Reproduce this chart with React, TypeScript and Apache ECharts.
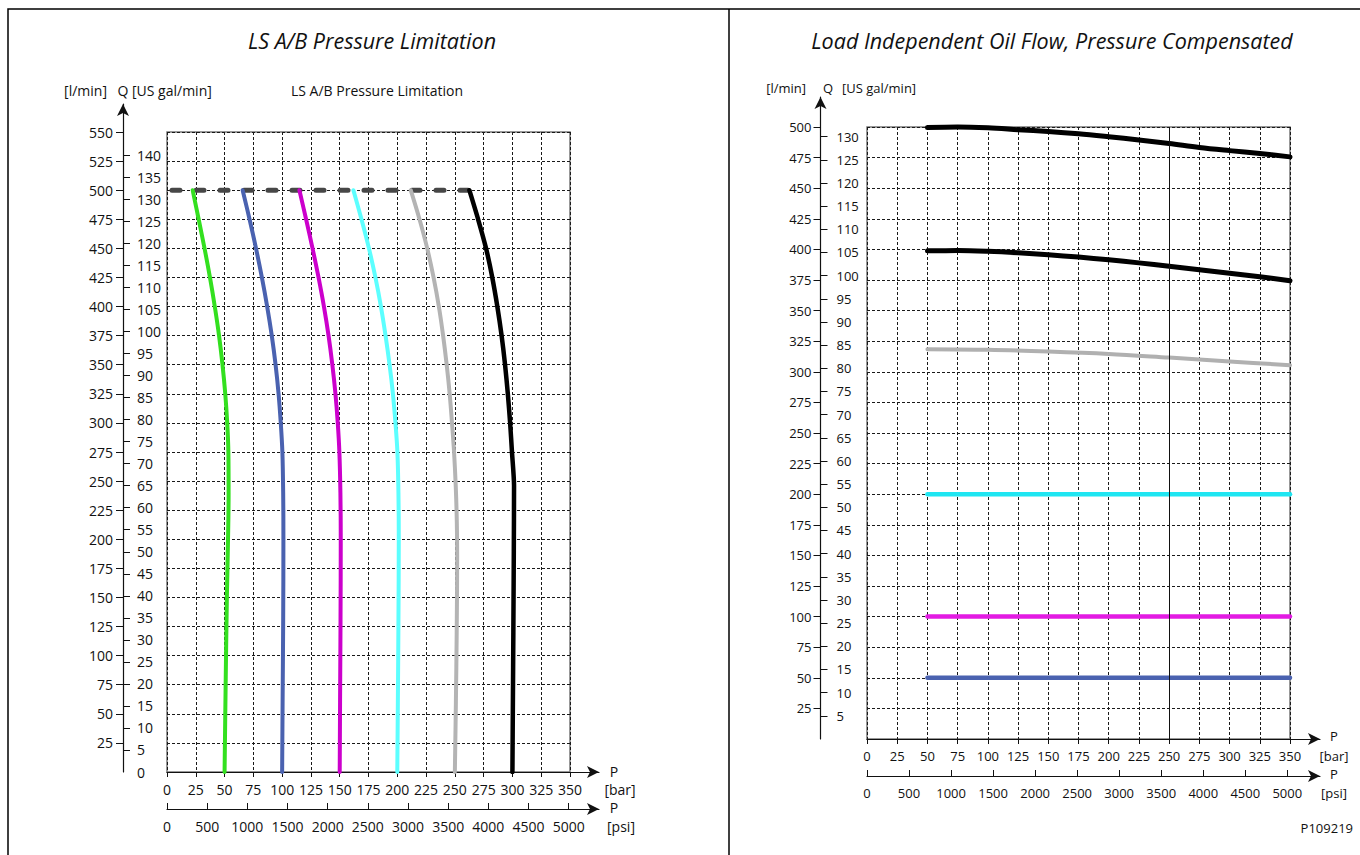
import React, { useEffect, useRef } from "react";
import * as echarts from "echarts";

// ---------- tick labels ----------
const barTicks = [0, 25, 50, 75, 100, 125, 150, 175, 200, 225, 250, 275, 300, 325, 350];
const psiTicks = [0, 500, 1000, 1500, 2000, 2500, 3000, 3500, 4000, 4500, 5000];
const leftFlowTicks = [25, 50, 75, 100, 125, 150, 175, 200, 225, 250, 275, 300, 325, 350, 375, 400, 425, 450, 475, 500, 525, 550];
const leftGalTicks = [0, 5, 10, 15, 20, 25, 30, 35, 40, 45, 50, 55, 60, 65, 70, 75, 80, 85, 90, 95, 100, 105, 110, 115, 120, 125, 130, 135, 140];
const rightFlowTicks = [25, 50, 75, 100, 125, 150, 175, 200, 225, 250, 275, 300, 325, 350, 375, 400, 425, 450, 475, 500];
const rightGalTicks = [5, 10, 15, 20, 25, 30, 35, 40, 45, 50, 55, 60, 65, 70, 75, 80, 85, 90, 95, 100, 105, 110, 115, 120, 125, 130];

// ---------- left chart: LS A/B pressure limitation  [bar, l/min] ----------
const leftLimitLine = [[0, 500], [262.6, 500]];
const leftGreen = [[22.3, 500], [27.5, 475], [32.6, 450], [37.3, 425], [41.5, 400], [45.2, 375], [48.2, 350], [50.6, 325], [52.3, 300], [53.3, 275], [53.5, 240], [53, 200], [52, 150], [51, 80], [50, 0]];
const leftBlue = [[65.7, 500], [71.7, 475], [77.3, 450], [82.4, 425], [87, 400], [91, 375], [94.3, 350], [96.9, 325], [98.8, 300], [100.2, 275], [100.9, 240], [101.1, 200], [100.9, 130], [100.4, 60], [100, 0]];
const leftMagenta = [[115, 500], [120.8, 475], [126.4, 450], [131.6, 425], [136.3, 400], [140.3, 375], [143.6, 350], [146.3, 325], [148.3, 300], [149.7, 275], [150.6, 240], [150.9, 200], [150.7, 130], [150.3, 60], [150, 0]];
const leftCyan = [[161.9, 500], [168.9, 475], [175.4, 450], [181, 425], [185.8, 400], [189.8, 375], [193.3, 350], [196.2, 325], [198.4, 300], [200.1, 275], [201, 240], [201.3, 200], [201, 130], [200.5, 60], [200, 0]];
const leftGray = [[211.7, 500], [219.3, 475], [226, 450], [231.5, 425], [236.1, 400], [239.8, 375], [242.9, 350], [245.5, 325], [247.5, 300], [249.3, 275], [250.8, 245], [251.7, 215], [252, 185], [251.6, 120], [250.9, 60], [250, 0]];
const leftBlack = [[262.6, 500], [270.2, 475], [277.1, 450], [282.5, 425], [286.9, 400], [290.6, 375], [293.6, 350], [296, 325], [298, 300], [299.6, 275], [301.4, 246], [301.2, 190], [300.8, 120], [300.4, 60], [300, 0]];

// ---------- right chart: load independent oil flow  [bar, l/min] ----------
const rightBlackHigh = [[50, 499.5], [75, 500], [100, 499.3], [125, 497.8], [150, 496.3], [175, 494.4], [200, 492], [225, 489.4], [250, 486.5], [275, 483.3], [300, 480.7], [325, 478.3], [350, 475.6]];
const rightBlackLow = [[50, 398.8], [75, 399], [100, 398.4], [125, 397.2], [150, 395.6], [175, 393.7], [200, 391.5], [225, 389], [250, 386.2], [275, 383.3], [300, 380.5], [325, 377.6], [350, 374.4]];
const rightGray = [[50, 318.5], [100, 318], [150, 316.6], [200, 314.6], [250, 311.6], [300, 308.5], [350, 305.4]];
const rightCyan = [[50, 200], [350, 200]];
const rightMagenta = [[50, 100], [350, 100]];
const rightBlue = [[50, 50], [350, 50]];

const LPM_PER_GAL = 3.78541;

function buildOption() {
  const F = '"Open Sans", "Noto Sans", sans-serif';
  const FN = '"Open Sans", "Noto Sans", sans-serif';
  const ink = "#111";
  const gridLine = { show: true, lineStyle: { color: "#1a1a1a", width: 1, type: [3, 2] as any } };
  const plain = (v: number) => String(v);

  // left geometry
  const L = { left: 167, top: 132, w: 403, h: 640, axisX: 123, axisTop: 104, arrowEnd: 599 };
  const lPxPerQ = L.h / 550;
  const lPxPerBar = L.w / 350;
  const lBottom = L.top + L.h;
  const lQMax = (lBottom - L.axisTop) / lPxPerQ;
  const lXw = L.arrowEnd - L.left;
  const lBarMax = lXw / lPxPerBar;
  const lPsiMax = (lXw * 5000) / 401.7;

  // right geometry
  const R = { left: 867, top: 127, w: 423, h: 612, axisX: 820.5, axisTop: 97, arrowEnd: 1320 };
  const rPxPerQ = R.h / 500;
  const rPxPerBar = R.w / 350;
  const rBottom = R.top + R.h;
  const rQMax = (rBottom - R.axisTop) / rPxPerQ;
  const rXw = R.arrowEnd - R.left;
  const rBarMax = rXw / rPxPerBar;
  const rPsiMax = (rXw * 5000) / 420.3;

  const arrowLine = { show: true, symbol: ["none", "arrow"], symbolSize: [9, 12], lineStyle: { color: ink, width: 1.2 } };
  const hidden = { show: false, min: 0, max: 1, type: "value" };

  const grid = [
    { left: L.left, top: L.top, width: L.w, height: L.h, show: true, borderColor: "#777", borderWidth: 1.5 },
    { left: L.axisX, top: L.axisTop, width: 10, height: lBottom - L.axisTop },
    { left: L.left, top: L.top, width: lXw, height: L.h },
    { left: R.left, top: R.top, width: R.w, height: R.h, show: true, borderColor: "#777", borderWidth: 1.5 },
    { left: R.axisX, top: R.axisTop, width: 10, height: rBottom - R.axisTop },
    { left: R.left, top: R.top, width: rXw, height: R.h },
  ];

  const barAxis = (gi: number, max: number, font: string, size: number) => ({
    type: "value", gridIndex: gi, min: 0, max, position: "bottom",
    axisLine: arrowLine,
    axisTick: { show: true, customValues: barTicks, length: 5, lineStyle: { color: ink } },
    axisLabel: { show: true, customValues: barTicks, formatter: plain, margin: 10, color: ink, fontFamily: font, fontSize: size },
    splitLine: { show: false },
  });
  const psiAxis = (gi: number, max: number, font: string, size: number, margin: number) => ({
    type: "value", gridIndex: gi, min: 0, max, position: "bottom", offset: 37,
    axisLine: arrowLine,
    axisTick: { show: true, inside: true, customValues: psiTicks, length: 6, lineStyle: { color: ink } },
    axisLabel: { show: true, customValues: psiTicks, formatter: plain, margin, color: ink, fontFamily: font, fontSize: size },
    splitLine: { show: false },
  });
  const flowAxis = (gi: number, max: number, ticks: number[], font: string, size: number, margin: number) => ({
    type: "value", gridIndex: gi, min: 0, max, position: "left",
    axisLine: arrowLine,
    axisTick: { show: true, customValues: ticks, length: 7, lineStyle: { color: ink } },
    axisLabel: { show: true, customValues: ticks, formatter: plain, margin, color: ink, fontFamily: font, fontSize: size },
    splitLine: { show: false },
  });
  const galAxis = (gi: number, max: number, tickVals: number[], labelVals: number[], font: string, size: number, margin: number) => ({
    type: "value", gridIndex: gi, min: 0, max, position: "left",
    axisLine: { show: false },
    axisTick: { show: true, inside: true, customValues: tickVals, length: 7, lineStyle: { color: ink } },
    axisLabel: { show: true, inside: true, customValues: labelVals, formatter: plain, margin, color: ink, fontFamily: font, fontSize: size },
    splitLine: { show: false },
  });

  const xAxis = [
    { type: "value", gridIndex: 0, min: 0, max: 350, interval: 25, axisLine: { show: false }, axisTick: { show: false }, axisLabel: { show: false }, splitLine: gridLine },
    { ...hidden, gridIndex: 1 },
    barAxis(2, lBarMax, F, 14),
    psiAxis(2, lPsiMax, F, 14, 10),
    { type: "value", gridIndex: 3, min: 0, max: 350, interval: 25, axisLine: { show: false }, axisTick: { show: false }, axisLabel: { show: false }, splitLine: gridLine },
    { ...hidden, gridIndex: 4 },
    barAxis(5, rBarMax, FN, 13),
    psiAxis(5, rPsiMax, FN, 13, 10),
  ];
  const yAxis = [
    { type: "value", gridIndex: 0, min: 0, max: 550, interval: 25, axisLine: { show: false }, axisTick: { show: false }, axisLabel: { show: false }, splitLine: gridLine },
    flowAxis(1, lQMax, leftFlowTicks, F, 14, 10),
    galAxis(1, lQMax / LPM_PER_GAL, leftGalTicks.filter((v) => v > 0), leftGalTicks, F, 14, 14),
    { ...hidden, gridIndex: 2 },
    { type: "value", gridIndex: 3, min: 0, max: 500, interval: 25, axisLine: { show: false }, axisTick: { show: false }, axisLabel: { show: false }, splitLine: gridLine },
    flowAxis(4, rQMax, rightFlowTicks, FN, 13, 9),
    galAxis(4, rQMax / LPM_PER_GAL, rightGalTicks, rightGalTicks, FN, 13, 16),
    { ...hidden, gridIndex: 5 },
  ];

  const line = (data: number[][], color: string, width: number, xi: number, yi: number, extra: any = {}) => ({
    type: "line", data, xAxisIndex: xi, yAxisIndex: yi, showSymbol: false, symbol: "none",
    smooth: 0.35, clip: false, silent: true, z: 3,
    lineStyle: { color, width, cap: "round", join: "round" },
    ...extra,
  });

  const series = [
    line(leftLimitLine, "#474747", 5, 0, 0, { smooth: false, z: 2, lineStyle: { color: "#474747", width: 5, cap: "round", type: [8, 16], dashOffset: -5 } }),
    line(leftGreen, "#33e01f", 4, 0, 0),
    line(leftBlue, "#4a62b0", 4, 0, 0),
    line(leftMagenta, "#cc00cc", 4, 0, 0),
    line(leftCyan, "#5cffff", 4, 0, 0),
    line(leftGray, "#b4b4b4", 4, 0, 0),
    line(leftBlack, "#000000", 4.5, 0, 0, { smooth: 0.25 }),
    line(rightBlackHigh, "#000000", 5, 4, 4),
    line(rightBlackLow, "#000000", 5, 4, 4),
    line(rightGray, "#b0b0b0", 4, 4, 4),
    line(rightCyan, "#1ee6f2", 4.5, 4, 4, {
      smooth: false,
      markLine: { silent: true, symbol: ["none", "none"], label: { show: false }, lineStyle: { color: "#111", width: 1, type: "solid" }, data: [{ xAxis: 250 }] },
    }),
    line(rightMagenta, "#e31be3", 4.5, 4, 4, { smooth: false }),
    line(rightBlue, "#4a62b0", 4.5, 4, 4, { smooth: false }),
  ];

  const txt = (text: string, x: number, y: number, font: string, align = "center") => ({
    type: "text", x, y, silent: true,
    style: { text, font, fill: ink, align, verticalAlign: "middle", textAlign: align, textVerticalAlign: "middle" },
  });

  const graphic = [
    { type: "rect", silent: true, shape: { x: 8, y: 9, width: 1400, height: 900 }, style: { fill: "none", stroke: "#000", lineWidth: 1.5 } },
    { type: "line", silent: true, shape: { x1: 729, y1: 9, x2: 729, y2: 860 }, style: { stroke: "#000", lineWidth: 1.5 } },
    txt("LS A/B Pressure Limitation", 372, 40, `italic 21.5px ${F}`),
    txt("Load Independent Oil Flow, Pressure Compensated", 1052, 40, `italic 21.5px ${F}`),
    txt("[l/min]", 107, 90, `14px ${F}`, "right"),
    txt("Q", 123, 90, `14px ${F}`),
    txt("[US gal/min]", 132, 90, `14px ${F}`, "left"),
    txt("LS A/B Pressure Limitation", 377, 90, `14px ${F}`),
    txt("[l/min]", 806, 88, `13px ${FN}`, "right"),
    txt("Q", 828, 88, `13px ${FN}`),
    txt("[US gal/min]", 842, 88, `13px ${FN}`, "left"),
    txt("P", 614, 771, `14px ${F}`),
    txt("[bar]", 620, 789, `14px ${F}`),
    txt("P", 614, 807, `14px ${F}`),
    txt("[psi]", 621, 826, `14px ${F}`),
    txt("P", 1334, 736, `13px ${FN}`),
    txt("[bar]", 1334, 756, `13px ${FN}`),
    txt("P", 1334, 774, `13px ${FN}`),
    txt("[psi]", 1334, 793, `13px ${FN}`),
    txt("P109219", 1353, 828, `13px ${FN}`, "right"),
  ];

  return { animation: false, backgroundColor: "#ffffff", grid, xAxis, yAxis, series, graphic };
}

export default function App() {
  const ref = useRef<HTMLDivElement>(null);
  useEffect(() => {
    if (!ref.current) return;
    const chart = echarts.init(ref.current, undefined, { renderer: "svg" });
    chart.setOption(buildOption() as any);
    return () => chart.dispose();
  }, []);
  return <div ref={ref} style={{ position: "fixed", left: 0, top: 0, width: 1360, height: 855, background: "#fff" }} />;
}
